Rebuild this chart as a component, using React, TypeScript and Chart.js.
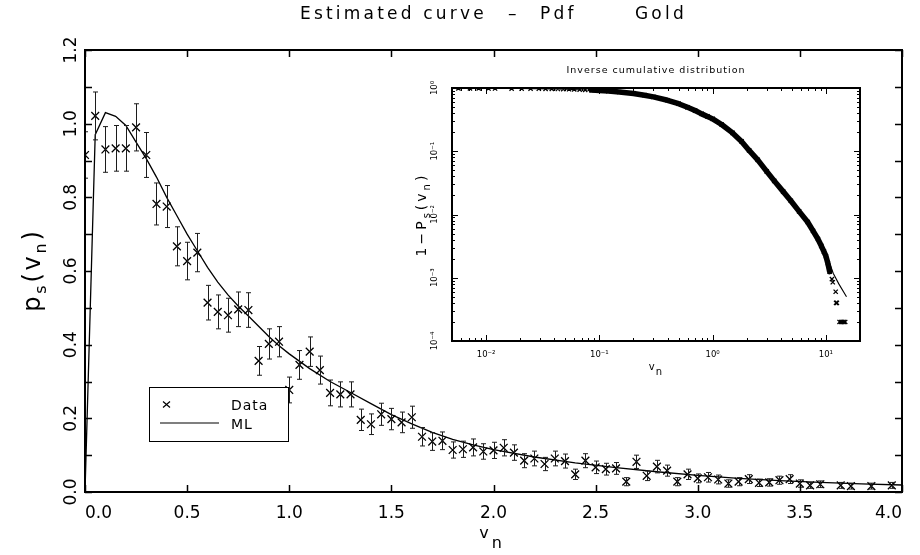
import React, { useEffect, useRef } from 'react';
import { Chart, registerables } from 'chart.js';

Chart.register(...registerables);

const FAMILY = "'DejaVu Sans', sans-serif";

// ---------- main panel: histogram estimate of the pdf ----------
const binCenters = [
  0.00, 0.05, 0.10, 0.15, 0.20, 0.25, 0.30, 0.35, 0.40, 0.45,
  0.50, 0.55, 0.60, 0.65, 0.70, 0.75, 0.80, 0.85, 0.90, 0.95,
  1.00, 1.05, 1.10, 1.15, 1.20, 1.25, 1.30, 1.35, 1.40, 1.45,
  1.50, 1.55, 1.60, 1.65, 1.70, 1.75, 1.80, 1.85, 1.90, 1.95,
  2.00, 2.05, 2.10, 2.15, 2.20, 2.25, 2.30, 2.35, 2.40, 2.45,
  2.50, 2.55, 2.60, 2.65, 2.70, 2.75, 2.80, 2.85, 2.90, 2.95,
  3.00, 3.05, 3.10, 3.15, 3.20, 3.25, 3.30, 3.35, 3.40, 3.45,
  3.50, 3.55, 3.60, 3.70, 3.75, 3.85, 3.95,
];

const pdfValues = [
  0.915, 1.021, 0.930, 0.933, 0.933, 0.990, 0.915, 0.782, 0.775, 0.667,
  0.627, 0.650, 0.514, 0.489, 0.480, 0.496, 0.494, 0.356, 0.402, 0.408,
  0.277, 0.345, 0.381, 0.331, 0.269, 0.265, 0.265, 0.196, 0.184, 0.211,
  0.198, 0.189, 0.203, 0.150, 0.137, 0.139, 0.114, 0.116, 0.121, 0.110,
  0.113, 0.120, 0.107, 0.085, 0.091, 0.076, 0.091, 0.084, 0.048, 0.085,
  0.067, 0.062, 0.064, 0.028, 0.082, 0.044, 0.069, 0.058, 0.028, 0.048,
  0.037, 0.040, 0.034, 0.023, 0.028, 0.035, 0.025, 0.026, 0.032, 0.035,
  0.023, 0.018, 0.021, 0.018, 0.016, 0.016, 0.018,
];

const pdfErrors = [
  0.063, 0.065, 0.062, 0.062, 0.062, 0.064, 0.061, 0.057, 0.057, 0.053,
  0.051, 0.052, 0.047, 0.046, 0.046, 0.047, 0.047, 0.039, 0.041, 0.041,
  0.035, 0.039, 0.040, 0.038, 0.035, 0.034, 0.034, 0.029, 0.028, 0.030,
  0.029, 0.028, 0.030, 0.025, 0.024, 0.024, 0.022, 0.022, 0.023, 0.021,
  0.022, 0.022, 0.021, 0.019, 0.020, 0.018, 0.020, 0.019, 0.014, 0.019,
  0.017, 0.016, 0.016, 0.011, 0.018, 0.013, 0.017, 0.015, 0.011, 0.014,
  0.012, 0.013, 0.012, 0.010, 0.011, 0.012, 0.010, 0.010, 0.011, 0.012,
  0.010, 0.008, 0.009, 0.008, 0.008, 0.008, 0.008,
];

// maximum-likelihood fitted pdf
const mlX = [
  0.0, 0.05, 0.10, 0.15, 0.20, 0.25, 0.30, 0.35, 0.40, 0.45, 0.50, 0.55, 0.60,
  0.65, 0.70, 0.75, 0.80, 0.85, 0.90, 0.95, 1.0, 1.1, 1.2, 1.3, 1.4, 1.5, 1.6,
  1.7, 1.8, 1.9, 2.0, 2.2, 2.4, 2.6, 2.8, 3.0, 3.2, 3.4, 3.6, 3.8, 4.0,
];
const mlY = [
  0.0, 0.97, 1.03, 1.02, 0.995, 0.95, 0.905, 0.855, 0.80, 0.75, 0.70, 0.655, 0.61,
  0.57, 0.535, 0.505, 0.478, 0.45, 0.422, 0.397, 0.375, 0.335, 0.30, 0.27, 0.24, 0.21, 0.185,
  0.162, 0.143, 0.128, 0.115, 0.095, 0.079, 0.066, 0.055, 0.045, 0.037, 0.031, 0.026, 0.022, 0.019,
];

const mainXTickValues = [0, 0.5, 1.0, 1.5, 2.0, 2.5, 3.0, 3.5, 4.0];
const mainXTickLabels = ['0.0', '0.5', '1.0', '1.5', '2.0', '2.5', '3.0', '3.5', '4.0'];
const mainYTickValues = [0, 0.1, 0.2, 0.3, 0.4, 0.5, 0.6, 0.7, 0.8, 0.9, 1.0, 1.1, 1.2];
const mainYLabelValues = [0, 0.2, 0.4, 0.6, 0.8, 1.0, 1.2];
const mainYTickLabels = ['0.0', '0.2', '0.4', '0.6', '0.8', '1.0', '1.2'];

const titleSegments = ['Estimated curve', '–', 'Pdf', 'Gold'];
const mainXTitle = [{ t: 'v' }, { t: 'n', sub: true }];
const mainYTitle = [{ t: 'p' }, { t: 's', sub: true }, { t: '(v' }, { t: 'n', sub: true }, { t: ')' }];
const legendLabels = ['Data', 'ML'];

// ---------- inset: inverse cumulative distribution ----------
const cdfX = [
  0.0057, 0.0072, 0.0086, 0.0105, 0.012, 0.0168, 0.0206, 0.0247, 0.0292, 0.0335,
  0.038, 0.043, 0.048, 0.054, 0.06, 0.067, 0.075, 0.085, 0.1, 0.12,
  0.15, 0.2, 0.25, 0.3, 0.4, 0.5, 0.6, 0.7, 0.8, 0.9,
  1.0, 1.2, 1.5, 1.8, 2.1, 2.5, 3.0, 3.5, 4.2, 4.9,
  5.8, 6.9, 7.7, 8.5, 9.1, 9.6, 10.0, 10.4, 10.8, 11.3,
  11.5, 12.2, 12.3, 12.5, 13.2, 13.6, 14.0, 14.4, 14.8,
];
const cdfY = [
  0.985, 0.985, 0.984, 0.983, 0.982, 0.98, 0.978, 0.976, 0.973, 0.97,
  0.967, 0.963, 0.959, 0.954, 0.949, 0.943, 0.936, 0.927, 0.915, 0.895,
  0.865, 0.82, 0.77, 0.725, 0.64, 0.565, 0.495, 0.44, 0.39, 0.355,
  0.325, 0.265, 0.195, 0.143, 0.103, 0.073, 0.048, 0.034, 0.023, 0.0165,
  0.0112, 0.0076, 0.0055, 0.0041, 0.0032, 0.0026, 0.0022, 0.0017, 0.00125, 0.00095,
  0.00085, 0.0006, 0.0004, 0.0004, 0.0002, 0.0002, 0.0002, 0.0002, 0.0002,
];
const fitX = [0.0057, 0.01, 0.02, 0.05, 0.1, 0.2, 0.3, 0.5, 0.7, 1.0, 1.5, 2.0, 3.0, 4.0, 5.0, 6.0, 7.0, 8.5, 10.0, 11.6, 13.0, 15.2];
const fitY = [0.995, 0.99, 0.98, 0.955, 0.915, 0.82, 0.725, 0.565, 0.44, 0.325, 0.195, 0.12, 0.048, 0.026, 0.0155, 0.0103, 0.0073, 0.0043, 0.0025, 0.00118, 0.0008, 0.0005];

const insetXDecades = [0.001, 0.01, 0.1, 1, 10];
const insetXLabels = ['', '10⁻²', '10⁻¹', '10⁰', '10¹'];
const insetYDecades = [0.0001, 0.001, 0.01, 0.1, 1];
const insetYLabels = ['10⁻⁴', '10⁻³', '10⁻²', '10⁻¹', '10⁰'];
const insetTitle = 'Inverse cumulative distribution';
const insetXTitle = [{ t: 'v' }, { t: 'n', sub: true }];
const insetYTitle = [{ t: '1−P' }, { t: 's', sub: true }, { t: '(v' }, { t: 'n', sub: true }, { t: ')' }];

// ---------- helpers ----------
type Piece = { t: string; sub?: boolean };

function drawPieces(ctx: CanvasRenderingContext2D, pieces: Piece[], cx: number, baseY: number,
  size: number, subSize: number, subDy: number, spacing: number, rot = 0) {
  ctx.save();
  ctx.translate(cx, baseY);
  if (rot) ctx.rotate(rot);
  ctx.fillStyle = '#000';
  ctx.textAlign = 'left';
  ctx.textBaseline = 'alphabetic';
  (ctx as any).letterSpacing = spacing + 'px';
  const fonts = pieces.map((p) => `${p.sub ? subSize : size}px ${FAMILY}`);
  const widths = pieces.map((p, i) => { ctx.font = fonts[i]; return ctx.measureText(p.t).width; });
  const total = widths.reduce((a, b) => a + b, 0);
  let x = -total / 2;
  pieces.forEach((p, i) => {
    ctx.font = fonts[i];
    ctx.fillText(p.t, x, p.sub ? subDy : 0);
    x += widths[i];
  });
  ctx.restore();
}

function findLabel(values: number[], labels: string[], v: number) {
  const i = values.findIndex((d) => Math.abs(d - v) < 1e-9 || Math.abs(d - v) / Math.abs(d || 1) < 1e-6);
  return i >= 0 ? labels[i] : '';
}

function logTicks(min: number, max: number, decades: number[]) {
  const out: { value: number }[] = [];
  decades.forEach((d) => {
    for (let m = 1; m <= 9; m++) {
      const v = d * m;
      if (v >= min * 0.9999 && v <= max * 1.0001) out.push({ value: v });
    }
  });
  return out;
}

// ---------- plugins ----------
const mainDecor = {
  id: 'mainDecor',
  afterDatasetsDraw(chart: any) {
    const { ctx, chartArea: a, scales } = chart;
    const xs = scales.x;
    const ys = scales.y;
    // error bars
    ctx.save();
    ctx.beginPath();
    ctx.rect(a.left, a.top, a.right - a.left, a.bottom - a.top);
    ctx.clip();
    ctx.strokeStyle = '#1c1c1c';
    ctx.lineWidth = 1;
    binCenters.forEach((v, i) => {
      const px = Math.round(xs.getPixelForValue(v)) + 0.5;
      const y1 = ys.getPixelForValue(pdfValues[i] - pdfErrors[i]);
      const y2 = ys.getPixelForValue(pdfValues[i] + pdfErrors[i]);
      ctx.beginPath();
      ctx.moveTo(px, y1); ctx.lineTo(px, y2);
      ctx.moveTo(px - 2.5, y1); ctx.lineTo(px + 2.5, y1);
      ctx.moveTo(px - 2.5, y2); ctx.lineTo(px + 2.5, y2);
      ctx.stroke();
    });
    ctx.restore();

    // legend box
    ctx.save();
    ctx.fillStyle = '#fff';
    ctx.fillRect(149.5, 387.5, 139, 54);
    ctx.strokeStyle = '#000';
    ctx.lineWidth = 1;
    ctx.strokeRect(149.5, 387.5, 139, 54);
    ctx.lineWidth = 1.2;
    ctx.beginPath();
    ctx.moveTo(163, 401.5); ctx.lineTo(170, 407.5);
    ctx.moveTo(170, 401.5); ctx.lineTo(163, 407.5);
    ctx.stroke();
    ctx.beginPath();
    ctx.moveTo(160, 423); ctx.lineTo(219, 423);
    ctx.stroke();
    ctx.fillStyle = '#000';
    ctx.font = `14px ${FAMILY}`;
    (ctx as any).letterSpacing = '1px';
    ctx.textAlign = 'left';
    ctx.textBaseline = 'alphabetic';
    ctx.fillText(chart.data.datasets[0].label, 231, 410);
    ctx.fillText(chart.data.datasets[1].label, 231, 428.5);
    ctx.restore();

    // frame and inward ticks
    ctx.save();
    ctx.strokeStyle = '#000';
    ctx.lineWidth = 1.5;
    xs.ticks.forEach((t: any) => {
      const px = Math.round(xs.getPixelForValue(t.value)) + 0.5;
      ctx.beginPath();
      ctx.moveTo(px, a.bottom); ctx.lineTo(px, a.bottom - 7);
      ctx.moveTo(px, a.top); ctx.lineTo(px, a.top + 7);
      ctx.stroke();
    });
    ys.ticks.forEach((t: any) => {
      const py = Math.round(ys.getPixelForValue(t.value)) + 0.5;
      ctx.beginPath();
      ctx.moveTo(a.left, py); ctx.lineTo(a.left + 7, py);
      ctx.moveTo(a.right, py); ctx.lineTo(a.right - 7, py);
      ctx.stroke();
    });
    ctx.lineWidth = 2;
    ctx.strokeRect(a.left, a.top, a.right - a.left, a.bottom - a.top);
    ctx.restore();
  },
  afterDraw(chart: any) {
    const { ctx } = chart;
    ctx.save();
    ctx.fillStyle = '#000';
    ctx.font = `17px ${FAMILY}`;
    (ctx as any).letterSpacing = '3.2px';
    ctx.textAlign = 'left';
    ctx.textBaseline = 'alphabetic';
    const xs = [300, 508, 540, 635];
    titleSegments.forEach((s, i) => ctx.fillText(s, xs[i], 18.5));
    ctx.restore();
    drawPieces(ctx, mainXTitle, 492, 538, 16, 16, 9.5, 3);
    drawPieces(ctx, mainYTitle, 40, 270, 24, 16, 5.5, 2.8, -Math.PI / 2);
  },
};

const insetDecor = {
  id: 'insetDecor',
  afterDatasetsDraw(chart: any) {
    const { ctx, chartArea: a, scales } = chart;
    const xs = scales.x;
    const ys = scales.y;
    const isDecade = (v: number) => Math.abs(Math.log10(v) - Math.round(Math.log10(v))) < 1e-6;
    ctx.save();
    ctx.strokeStyle = '#000';
    ctx.lineWidth = 1;
    xs.ticks.forEach((t: any) => {
      const px = Math.round(xs.getPixelForValue(t.value)) + 0.5;
      const len = isDecade(t.value) ? 6 : 3;
      ctx.beginPath();
      ctx.moveTo(px, a.bottom); ctx.lineTo(px, a.bottom - len);
      ctx.moveTo(px, a.top); ctx.lineTo(px, a.top + len);
      ctx.stroke();
    });
    ys.ticks.forEach((t: any) => {
      const py = Math.round(ys.getPixelForValue(t.value)) + 0.5;
      const len = isDecade(t.value) ? 6 : 3;
      ctx.beginPath();
      ctx.moveTo(a.left, py); ctx.lineTo(a.left + len, py);
      ctx.moveTo(a.right, py); ctx.lineTo(a.right - len, py);
      ctx.stroke();
    });
    ctx.lineWidth = 2;
    ctx.strokeRect(a.left, a.top, a.right - a.left, a.bottom - a.top);
    ctx.restore();
  },
  afterDraw(chart: any) {
    const { ctx, chartArea: a } = chart;
    ctx.save();
    ctx.fillStyle = '#000';
    ctx.font = `9.5px ${FAMILY}`;
    (ctx as any).letterSpacing = '1px';
    ctx.textAlign = 'center';
    ctx.textBaseline = 'alphabetic';
    ctx.fillText(insetTitle, (a.left + a.right) / 2, 17.5);
    ctx.restore();
    drawPieces(ctx, insetXTitle, (a.left + a.right) / 2, 315, 10, 10, 4.5, 1);
    drawPieces(ctx, insetYTitle, 21, (a.top + a.bottom) / 2, 14, 10, 3.5, 3, -Math.PI / 2);
  },
};

export default function App() {
  const mainRef = useRef<HTMLCanvasElement>(null);
  const insetRef = useRef<HTMLCanvasElement>(null);

  useEffect(() => {
    const tickFont = { family: FAMILY, size: 17 };
    const main = new Chart(mainRef.current as HTMLCanvasElement, {
      type: 'line',
      data: {
        datasets: [
          {
            label: legendLabels[0],
            data: binCenters.map((x, i) => ({ x, y: pdfValues[i] })),
            showLine: false,
            pointStyle: 'crossRot',
            pointRadius: 5.5,
            pointBorderWidth: 1.3,
            pointBorderColor: '#000',
            pointBackgroundColor: 'rgba(0,0,0,0)',
            borderColor: '#000',
          },
          {
            label: legendLabels[1],
            data: mlX.map((x, i) => ({ x, y: mlY[i] })),
            borderColor: '#000',
            borderWidth: 1.3,
            pointRadius: 0,
            tension: 0,
            fill: false,
          },
        ],
      },
      options: {
        animation: false,
        responsive: false,
        layout: { padding: { left: 0, top: 50, right: 18, bottom: 0 } },
        plugins: { legend: { display: false }, tooltip: { enabled: false }, title: { display: false } },
        scales: {
          x: {
            type: 'linear',
            min: 0,
            max: 4,
            afterBuildTicks: (s: any) => { s.ticks = mainXTickValues.map((value) => ({ value })); },
            afterFit: (s: any) => { s.height = 63; },
            ticks: {
              callback: (v: any) => findLabel(mainXTickValues, mainXTickLabels, Number(v)),
              font: tickFont,
              color: '#000',
              padding: 3,
              align: 'inner',
              maxRotation: 0,
              autoSkip: false,
            },
            grid: { display: false },
            border: { display: false },
          },
          y: {
            type: 'linear',
            min: 0,
            max: 1.2,
            afterBuildTicks: (s: any) => { s.ticks = mainYTickValues.map((value) => ({ value })); },
            afterFit: (s: any) => { s.width = 85; },
            ticks: {
              callback: (v: any) => findLabel(mainYLabelValues, mainYTickLabels, Number(v)),
              font: tickFont,
              color: '#000',
              padding: -8,
              minRotation: 90,
              maxRotation: 90,
              crossAlign: 'center',
              autoSkip: false,
            },
            grid: { display: false },
            border: { display: false },
          },
        },
      } as any,
      plugins: [mainDecor],
    });

    const smallFont = { family: FAMILY, size: 8.5 };
    const inset = new Chart(insetRef.current as HTMLCanvasElement, {
      type: 'line',
      data: {
        datasets: [
          {
            label: 'data',
            data: cdfX.map((x, i) => ({ x, y: cdfY[i] })),
            showLine: true,
            borderWidth: 5.5,
            borderColor: '#000',
            borderCapStyle: 'round',
            borderJoinStyle: 'round',
            segment: {
              borderColor: (c: any) => (c.p0.parsed.x < 0.08 || c.p1.parsed.x > 10.9 ? 'rgba(0,0,0,0)' : '#000'),
            },
            pointStyle: 'crossRot',
            pointRadius: 3,
            pointBorderWidth: 1.3,
            pointBorderColor: '#000',
            pointBackgroundColor: 'rgba(0,0,0,0)',
            tension: 0,
          },
          {
            label: 'fit',
            data: fitX.map((x, i) => ({ x, y: fitY[i] })),
            borderColor: '#000',
            borderWidth: 1.1,
            pointRadius: 0,
            tension: 0,
          },
        ],
      },
      options: {
        animation: false,
        responsive: false,
        layout: { padding: { left: 0, top: 33, right: 20, bottom: 0 } },
        plugins: { legend: { display: false }, tooltip: { enabled: false }, title: { display: false } },
        scales: {
          x: {
            type: 'logarithmic',
            min: 0.005,
            max: 20,
            afterBuildTicks: (s: any) => { s.ticks = logTicks(0.005, 20, insetXDecades); },
            afterFit: (s: any) => { s.height = 44; },
            ticks: {
              callback: (v: any) => findLabel(insetXDecades, insetXLabels, Number(v)),
              font: smallFont,
              color: '#000',
              padding: 1,
              maxRotation: 0,
              autoSkip: false,
            },
            grid: { display: false },
            border: { display: false },
          },
          y: {
            type: 'logarithmic',
            min: 0.0001,
            max: 1,
            afterBuildTicks: (s: any) => { s.ticks = logTicks(0.0001, 1, insetYDecades); },
            afterFit: (s: any) => { s.width = 47; },
            ticks: {
              callback: (v: any) => findLabel(insetYDecades, insetYLabels, Number(v)),
              font: smallFont,
              color: '#000',
              padding: 0,
              minRotation: 90,
              maxRotation: 90,
              crossAlign: 'center',
              autoSkip: false,
            },
            grid: { display: false },
            border: { display: false },
          },
        },
      } as any,
      plugins: [insetDecor],
    });

    return () => {
      main.destroy();
      inset.destroy();
    };
  }, []);

  return (
    <div style={{ position: 'fixed', left: 0, top: 0, width: 920, height: 555, background: '#fff', overflow: 'hidden' }}>
      <canvas ref={mainRef} width={920} height={555} style={{ position: 'absolute', left: 0, top: 0 }} />
      <canvas ref={insetRef} width={475} height={330} style={{ position: 'absolute', left: 405, top: 55 }} />
    </div>
  );
}
